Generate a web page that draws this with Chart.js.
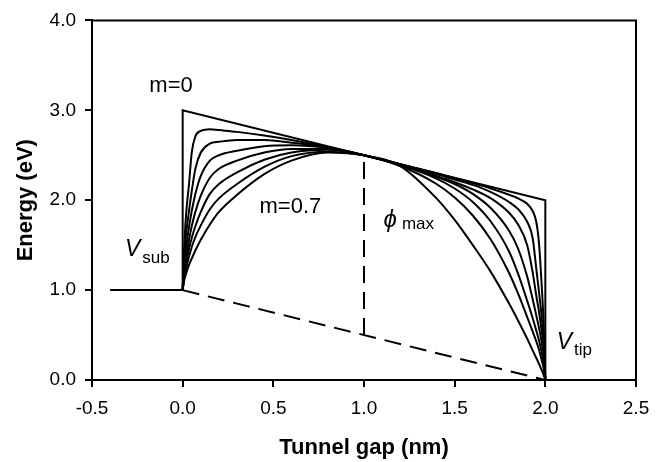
<!DOCTYPE html>
<html>
<head>
<meta charset="utf-8">
<script src="https://cdn.jsdelivr.net/npm/chart.js@4.4.1/dist/chart.umd.min.js"></script>
<style>
  html, body { margin: 0; padding: 0; background: #fff; }
  #wrap { width: 662px; height: 462px; }
</style>
</head>
<body>
<div id="wrap"><canvas id="barrierChart" width="662" height="462"></canvas></div>
<script>
// gap positions (nm) shared by the m = 0.1 ... 0.7 barrier curves
const gapNm = [0, 0.005, 0.01, 0.02, 0.035, 0.05, 0.07, 0.1, 0.15, 0.2, 0.3, 0.45, 0.6, 0.8, 1.0,
               1.2, 1.4, 1.5, 1.6, 1.7, 1.8, 1.85, 1.9, 1.93, 1.95, 1.965, 1.98, 1.99, 1.995, 2.0];

// barrier energy (eV) for each m
const barrierM01 = [1.00, 1.30, 1.55, 1.87, 2.18, 2.53, 2.71, 2.77, 2.79, 2.78, 2.76, 2.72, 2.67, 2.59, 2.50,
                    2.40, 2.30, 2.245, 2.19, 2.13, 2.06, 2.02, 1.96, 1.88, 1.76, 1.52, 1.05, 0.66, 0.36, 0.00];
const barrierM02 = [1.00, 1.24, 1.42, 1.64, 1.88, 2.10, 2.35, 2.53, 2.63, 2.65, 2.67, 2.67, 2.64, 2.59, 2.50,
                    2.40, 2.29, 2.23, 2.17, 2.09, 1.98, 1.90, 1.76, 1.58, 1.24, 0.98, 0.70, 0.46, 0.26, 0.00];
const barrierM03 = [1.00, 1.18, 1.32, 1.49, 1.70, 1.88, 2.07, 2.27, 2.44, 2.50, 2.55, 2.60, 2.61, 2.58, 2.50,
                    2.40, 2.27, 2.20, 2.12, 2.02, 1.86, 1.73, 1.50, 1.20, 0.94, 0.76, 0.54, 0.36, 0.20, 0.00];
const barrierM04 = [1.00, 1.14, 1.25, 1.39, 1.56, 1.71, 1.87, 2.05, 2.25, 2.35, 2.44, 2.53, 2.57, 2.57, 2.50,
                    2.39, 2.26, 2.18, 2.07, 1.91, 1.66, 1.46, 1.15, 0.90, 0.72, 0.58, 0.42, 0.28, 0.16, 0.00];
const barrierM05 = [1.00, 1.11, 1.20, 1.32, 1.46, 1.58, 1.71, 1.87, 2.07, 2.18, 2.31, 2.45, 2.53, 2.56, 2.50,
                    2.39, 2.24, 2.13, 1.98, 1.76, 1.43, 1.18, 0.88, 0.69, 0.55, 0.44, 0.31, 0.20, 0.11, 0.00];
const barrierM06 = [1.00, 1.08, 1.15, 1.25, 1.37, 1.48, 1.59, 1.72, 1.90, 2.02, 2.18, 2.37, 2.49, 2.54, 2.50,
                    2.38, 2.18, 2.03, 1.83, 1.56, 1.19, 0.96, 0.70, 0.54, 0.43, 0.34, 0.22, 0.14, 0.07, 0.00];
const barrierM07 = [1.00, 1.07, 1.12, 1.19, 1.28, 1.35, 1.44, 1.56, 1.73, 1.87, 2.06, 2.29, 2.44, 2.53, 2.50,
                    2.38, 2.02, 1.78, 1.50, 1.20, 0.85, 0.66, 0.46, 0.33, 0.245, 0.18, 0.11, 0.06, 0.03, 0.00];

// m = 0: plain trapezoid
const trapezoidX = [0, 0, 2, 2];
const trapezoidY = [1, 3, 2, 0];

// substrate Fermi level
const substrateX = [-0.4, 0];
const substrateY = [1, 1];

// applied bias drop across the gap
const biasX = [0, 2];
const biasY = [1, 0];

// phi_max marker
const phiMaxX = [1, 1];
const phiMaxY = [0.5, 2.5];

const xTicks = [-0.5, 0, 0.5, 1, 1.5, 2, 2.5];
const yTicks = [0, 1, 2, 3, 4];

const FONT = "'Liberation Sans', Arial, sans-serif";

function toPoints(xs, ys) {
    return xs.map((x, i) => ({ x: x, y: ys[i] }));
}

function curve(ys) {
    return {
        data: toPoints(gapNm, ys),
        borderColor: '#000',
        borderWidth: 2,
        pointRadius: 0,
        fill: false,
        cubicInterpolationMode: 'monotone'
    };
}

function straight(xs, ys, dash) {
    return {
        data: toPoints(xs, ys),
        borderColor: '#000',
        borderWidth: 2,
        pointRadius: 0,
        fill: false,
        tension: 0,
        borderDash: dash || []
    };
}

// top/right frame plus the in-plot labels
const frameAndLabels = {
    id: 'frameAndLabels',
    afterDraw(chart) {
        const { ctx, chartArea: area, scales: { x, y } } = chart;
        ctx.save();
        ctx.strokeStyle = '#000';
        ctx.lineWidth = 2;
        ctx.beginPath();
        ctx.moveTo(area.left, area.top);
        ctx.lineTo(area.right, area.top);
        ctx.lineTo(area.right, area.bottom);
        ctx.stroke();

        ctx.fillStyle = '#000';
        ctx.textBaseline = 'middle';

        const text = (str, px, py, size, style, align) => {
            ctx.font = (style || '') + ' ' + size + 'px ' + FONT;
            ctx.textAlign = align || 'left';
            ctx.fillText(str, px, py);
            return ctx.measureText(str).width;
        };

        text('m=0', x.getPixelForValue(-0.064), y.getPixelForValue(3.27), 22, '', 'center');
        text('m=0.7', x.getPixelForValue(0.594), y.getPixelForValue(1.924), 22, '', 'center');

        // V_sub
        let px = x.getPixelForValue(-0.318), py = y.getPixelForValue(1.447);
        let w = text('V', px, py, 23, 'italic');
        text('sub', px + w + 2, py + 8, 17);

        // phi_max
        px = x.getPixelForValue(1.108); py = y.getPixelForValue(1.776);
        w = text('\u03D5', px, py, 24, 'italic');
        text('max', px + w + 5, py + 4, 17);

        // V_tip
        px = x.getPixelForValue(2.063); py = y.getPixelForValue(0.417);
        w = text('V', px, py, 23, 'italic');
        text('tip', px + w + 2, py + 8, 17);
        ctx.restore();
    }
};

const canvas = document.getElementById('barrierChart');
new Chart(canvas.getContext('2d'), {
    type: 'line',
    data: {
        datasets: [
            straight(substrateX, substrateY),
            straight(trapezoidX, trapezoidY),
            curve(barrierM01),
            curve(barrierM02),
            curve(barrierM03),
            curve(barrierM04),
            curve(barrierM05),
            curve(barrierM06),
            curve(barrierM07),
            straight(biasX, biasY, [17, 9]),
            straight(phiMaxX, phiMaxY, [17, 9])
        ]
    },
    options: {
        responsive: false,
        animation: false,
        devicePixelRatio: 1,
        layout: { padding: { top: 15, right: 26, left: 0, bottom: 0 } },
        plugins: {
            legend: { display: false },
            tooltip: { enabled: false }
        },
        scales: {
            x: {
                type: 'linear',
                position: 'bottom',
                min: -0.5,
                max: 2.5,
                afterFit: function (scale) { scale.height = 82; },
                afterBuildTicks: function (scale) {
                    scale.ticks = xTicks.map(v => ({ value: v }));
                },
                ticks: {
                    color: '#000',
                    font: { family: FONT, size: 19 },
                    padding: 10,
                    maxRotation: 0,
                    callback: v => v.toFixed(1)
                },
                grid: { drawOnChartArea: false, tickLength: 7, color: '#000', lineWidth: 2 },
                border: { color: '#000', width: 2 },
                title: {
                    display: true,
                    text: 'Tunnel gap (nm)',
                    color: '#000',
                    font: { family: FONT, size: 22, weight: 'bold' },
                    padding: { top: 0, bottom: 1 }
                }
            },
            y: {
                min: 0,
                max: 4,
                afterFit: function (scale) { scale.width = 92; },
                afterBuildTicks: function (scale) {
                    scale.ticks = yTicks.map(v => ({ value: v }));
                },
                ticks: {
                    color: '#000',
                    font: { family: FONT, size: 19 },
                    padding: 9,
                    callback: v => v.toFixed(1)
                },
                grid: { drawOnChartArea: false, tickLength: 7, color: '#000', lineWidth: 2 },
                border: { color: '#000', width: 2 },
                title: {
                    display: true,
                    text: 'Energy (eV)',
                    color: '#000',
                    font: { family: FONT, size: 22, weight: 'bold' },
                    padding: { top: 13, bottom: 0 }
                }
            }
        }
    },
    plugins: [frameAndLabels]
});
</script>
</body>
</html>
